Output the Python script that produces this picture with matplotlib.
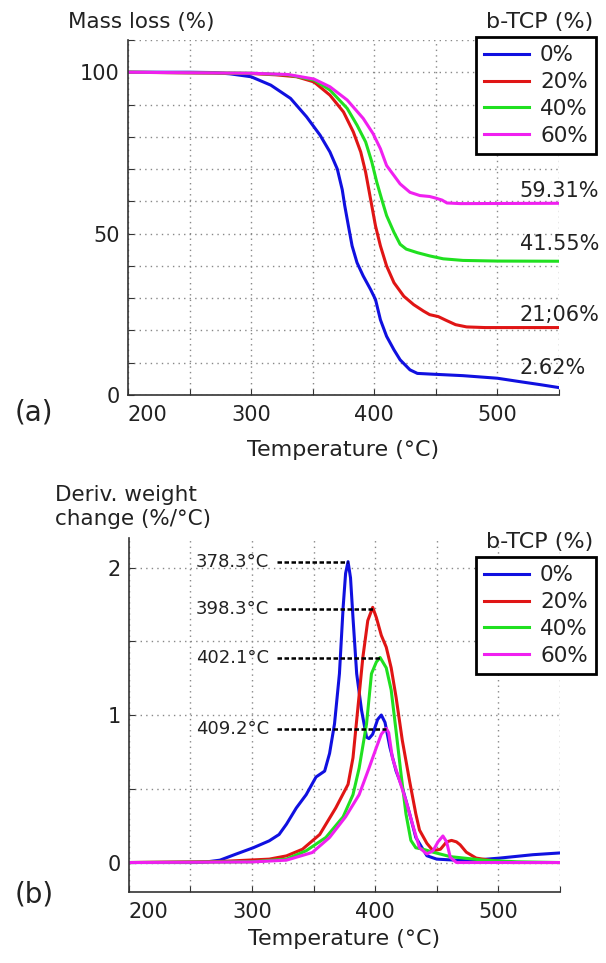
import matplotlib
matplotlib.use("Agg")
import matplotlib.pyplot as plt
import numpy as np

plt.rcParams['font.family'] = ['DejaVu Sans']

# ---- (a) TGA mass loss ----
T_a0 = [200, 250, 270, 283, 300, 316, 332, 345, 356, 364, 370, 374, 376, 379, 382, 386,
        391, 397, 401, 405, 410, 416, 421, 429, 435, 445, 472, 500, 519, 535, 550]
m_a0 = [100, 100, 99.9, 99.5, 98.6, 96, 91.9, 86.2, 80.5, 75.3, 70, 63.6, 58.7, 52.4, 46.2, 41,
        36.9, 32.7, 29.6, 23.3, 18.2, 14, 10.9, 7.8, 6.7, 6.5, 6.0, 5.2, 4.1, 3.2, 2.3]

T_a20 = [200, 300, 320, 337, 351, 364, 375, 383, 389, 393, 397, 401, 405, 410, 416, 424,
         432, 440, 445, 452, 458, 466, 475, 490, 550]
m_a20 = [100, 99.6, 99.2, 98.6, 97, 92.9, 87.7, 81.5, 75.3, 69, 60.7, 52.4, 46.2, 40, 34.8, 30.6,
         28, 26, 24.9, 24.3, 23.2, 21.8, 21.1, 20.9, 20.9]

T_a40 = [200, 300, 330, 351, 364, 378, 386, 393, 398, 402, 406, 410, 416, 421, 426, 435,
         445, 456, 472, 500, 550]
m_a40 = [100, 99.7, 99.2, 97.6, 94.5, 88.8, 83.6, 78.4, 72.2, 66, 60.7, 55.6, 50.4, 46.7, 45.2, 44.1,
         43.1, 42.2, 41.7, 41.5, 41.45]

T_a60 = [200, 300, 330, 351, 364, 378, 391, 399, 405, 410, 416, 421, 429, 437, 445, 450,
         455, 459, 470, 550]
m_a60 = [100, 99.7, 99.3, 97.9, 95.5, 91.4, 85.7, 81, 76.3, 71.1, 68, 65.4, 62.8, 61.8, 61.5, 61.0,
         60.4, 59.5, 59.3, 59.4]

residue_labels = ['59.31%', '41.55%', '21;06%', '2.62%']
residue_y = [63.2, 46.7, 24.9, 8.4]

# ---- (b) DTG ----
T_b0 = [200, 255, 262, 274, 287, 301, 314, 322, 328, 336, 344, 352, 359, 363, 367, 371, 374,
        376, 378, 380, 382, 385, 389, 393, 395, 398, 402, 405, 408, 412, 417, 422, 428, 433,
        442, 450, 474, 501, 528, 550]
d_b0 = [0, 0, 0.003, 0.016, 0.057, 0.10, 0.147, 0.19, 0.26, 0.37, 0.46, 0.58, 0.62, 0.74, 0.94,
        1.28, 1.73, 1.96, 2.04, 1.93, 1.66, 1.28, 1.03, 0.85, 0.84, 0.87, 0.97, 1.0, 0.95, 0.78,
        0.62, 0.51, 0.33, 0.17, 0.046, 0.023, 0.012, 0.03, 0.053, 0.065]

T_b20 = [200, 274, 314, 328, 341, 355, 368, 378, 382, 386, 390, 394, 398, 401, 405, 409, 413,
         417, 422, 428, 433, 436, 442, 447, 453, 458, 462, 466, 469, 474, 482, 496, 510, 550]
d_b20 = [0, 0.007, 0.023, 0.045, 0.09, 0.19, 0.37, 0.53, 0.71, 1.05, 1.39, 1.64, 1.73, 1.66,
         1.54, 1.46, 1.32, 1.12, 0.83, 0.55, 0.33, 0.22, 0.13, 0.08, 0.09, 0.14, 0.15, 0.14,
         0.12, 0.07, 0.03, 0.012, 0, 0]

T_b40 = [200, 300, 328, 344, 360, 374, 382, 387, 393, 397, 401, 404, 409, 413, 417, 421, 425,
         429, 433, 439, 447, 461, 488, 515, 550]
d_b40 = [0, 0.005, 0.023, 0.08, 0.17, 0.31, 0.46, 0.64, 0.94, 1.28, 1.36, 1.39, 1.32, 1.17,
         0.89, 0.6, 0.33, 0.15, 0.10, 0.09, 0.07, 0.04, 0.016, 0.005, 0]

T_b60 = [200, 300, 328, 349, 363, 376, 387, 395, 401, 405, 409, 411, 414, 420, 425, 431, 436,
         442, 447, 451, 455, 458, 461, 466, 550]
d_b60 = [0, 0.004, 0.016, 0.068, 0.17, 0.31, 0.46, 0.64, 0.78, 0.87, 0.91, 0.88, 0.71, 0.55,
         0.42, 0.24, 0.10, 0.058, 0.08, 0.14, 0.18, 0.14, 0.035, 0, 0]

peak_labels = ['378.3°C', '398.3°C', '402.1°C', '409.2°C']
peak_x = [378, 398, 404, 409]
peak_y = [2.04, 1.72, 1.387, 0.905]

series_names = ['0%', '20%', '40%', '60%']
colors = ['#1010e0', '#e01515', '#20e020', '#f020f0']

dark = '#222222'
fig = plt.figure(figsize=(6.06, 9.63), dpi=100)

def style_axes(ax, yticks, ylabels, ylim, xlabelpad):
    ax.set_xlim(200, 550)
    ax.set_ylim(*ylim)
    ax.set_xticks(np.arange(200, 551, 50))
    ax.set_xticklabels(['200', '', '300', '', '400', '', '500', ''])
    ax.set_yticks(yticks)
    ax.set_yticklabels(ylabels)
    ax.xaxis.get_majorticklabels()[0].set_horizontalalignment('left')
    for s in ['top', 'right']:
        ax.spines[s].set_visible(False)
    for s in ['left', 'bottom']:
        ax.spines[s].set_color('#333333')
        ax.spines[s].set_linewidth(1.2)
    ax.tick_params(direction='in', length=4, color='#333333', labelsize=15,
                   labelcolor=dark)
    ax.tick_params(axis='y', pad=6)
    ax.tick_params(axis='x', pad=7)
    ax.grid(True, linestyle=(0, (1, 3)), color='#888888', linewidth=1.0)
    ax.set_xlabel('Temperature (°C)', fontsize=16, color=dark, labelpad=xlabelpad)

def add_legend(ax, top_px):
    leg = ax.legend(loc='upper right', bbox_to_anchor=(596 / 606, 1 - top_px / 963),
                    bbox_transform=fig.transFigure, fontsize=15.5, frameon=True,
                    fancybox=False, framealpha=1, edgecolor='black', borderpad=0.38,
                    labelspacing=0.32, handlelength=2.1, handletextpad=0.5, borderaxespad=0)
    leg.get_frame().set_linewidth(2)
    for t in leg.get_texts():
        t.set_color(dark)
    return leg

# ---------- (a) ----------
ax1 = fig.add_axes([0.2112, 0.5898, 0.7112, 0.3687])
for T, m, c, n in zip([T_a0, T_a20, T_a40, T_a60], [m_a0, m_a20, m_a40, m_a60], colors, series_names):
    ax1.plot(T, m, color=c, lw=2.2, label=n)
style_axes(ax1, np.arange(0, 111, 10),
           ['0', '', '', '', '', '50', '', '', '', '', '100', ''], (0, 110), 11)
for lab, y in zip(residue_labels, residue_y):
    ax1.text(518, y, lab, fontsize=15, color=dark, ha='left', va='center', clip_on=False)
add_legend(ax1, 37)

fig.text(68 / 606, 1 - 22 / 963, 'Mass loss (%)', fontsize=15.5, color=dark, va='center', ha='left')
fig.text(593 / 606, 1 - 22 / 963, 'b-TCP (%)', fontsize=16, color=dark, va='center', ha='right')
fig.text(15 / 606, 1 - 412 / 963, '(a)', fontsize=20, color=dark, va='center', ha='left')

# ---------- (b) ----------
ax2 = fig.add_axes([0.2125, 0.0737, 0.7115, 0.3676])
for T, d, c, n in zip([T_b0, T_b20, T_b40, T_b60], [d_b0, d_b20, d_b40, d_b60], colors, series_names):
    ax2.plot(T, d, color=c, lw=2.2, label=n)
style_axes(ax2, [0, 0.5, 1, 1.5, 2], ['0', '', '1', '', '2'], (-0.2, 2.2), 5)
for lab, px, py in zip(peak_labels, peak_x, peak_y):
    ax2.plot([320, px], [py, py], color='black', lw=1.8, linestyle=(0, (1.8, 1)), zorder=3)
    ax2.text(314, py, lab, fontsize=13, color=dark, ha='right', va='center')
add_legend(ax2, 557)

fig.text(55 / 606, 1 - 507 / 963, 'Deriv. weight\nchange (%/°C)', fontsize=15.5, color=dark,
         va='center', ha='left', linespacing=1.3)
fig.text(593 / 606, 1 - 542 / 963, 'b-TCP (%)', fontsize=16, color=dark, va='center', ha='right')
fig.text(15 / 606, 1 - 895 / 963, '(b)', fontsize=20, color=dark, va='center', ha='left')

fig.savefig('out.png', dpi=100, facecolor='white')
